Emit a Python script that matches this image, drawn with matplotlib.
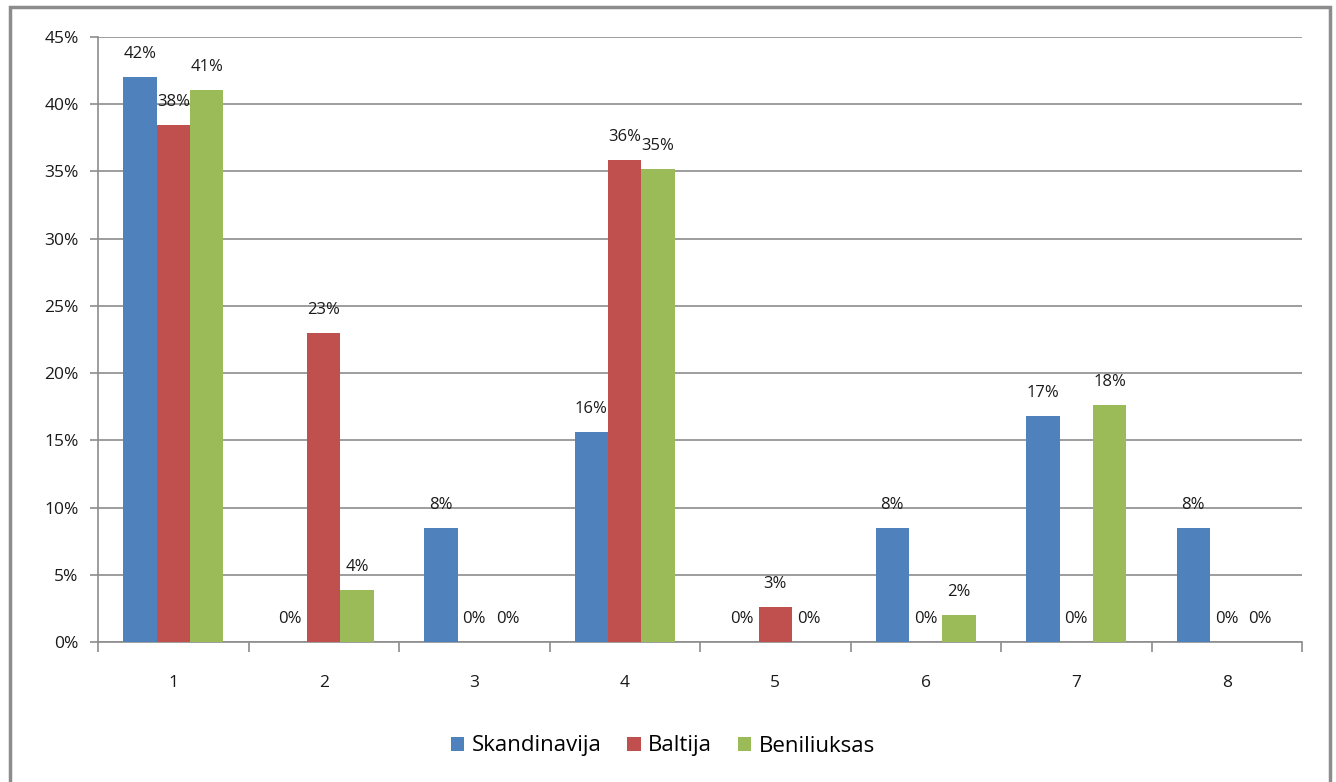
import matplotlib
matplotlib.use("Agg")
import matplotlib.pyplot as plt
import numpy as np
from matplotlib.patches import Rectangle

categories = ["1", "2", "3", "4", "5", "6", "7", "8"]
series_names = ["Skandinavija", "Baltija", "Beniliuksas"]
skandinavija = [42.0, 0.0, 8.48, 15.6, 0.0, 8.48, 16.8, 8.48]
baltija = [38.45, 22.98, 0.0, 35.85, 2.6, 0.0, 0.0, 0.0]
beniliuksas = [41.06, 3.87, 0.0, 35.18, 0.0, 2.0, 17.6, 0.0]
colors = ["#4F81BD", "#C0504D", "#9BBB59"]
y_ticks = [0, 5, 10, 15, 20, 25, 30, 35, 40, 45]

plt.rcParams["font.family"] = ["Open Sans", "DejaVu Sans"]

fig = plt.figure(figsize=(13.36, 7.82), dpi=100)
ax = fig.add_axes([98 / 1336, 1 - 642 / 782, (1302 - 98) / 1336, (642 - 37) / 782])

# outer chart frame (bottom edge runs off the canvas)
fig.patches.append(Rectangle((9.5 / 1336, -20 / 782), 1320 / 1336, 795 / 782,
                             transform=fig.transFigure, fill=False,
                             edgecolor="#8c8c8c", linewidth=2.5))

x = np.arange(len(categories))
width = 0.222
for i, (vals, name) in enumerate(zip([skandinavija, baltija, beniliuksas], series_names)):
    pos = x + (i - 1) * width
    ax.bar(pos, vals, width, color=colors[i], label=name, zorder=3)
    for p, v in zip(pos, vals):
        ax.annotate(f"{round(v)}%", (p, v), xytext=(0, 16.5), textcoords="offset points",
                    ha="center", va="center", fontsize=12, color="#1a1a1a")

ax.set_xlim(-0.5, len(categories) - 0.5)
ax.set_ylim(0, 45)
ax.set_yticks(y_ticks)
ax.set_yticklabels([f"{t}%" for t in y_ticks], fontsize=12.5, color="#1a1a1a")
ax.yaxis.grid(True, color="#8c8c8c", linewidth=1.2, zorder=0)

ax.set_xticks(x)
ax.set_xticklabels(categories, fontsize=12.5, color="#1a1a1a")
ax.set_xticks(np.arange(-0.5, len(categories)), minor=True)
ax.tick_params(axis="x", which="major", length=0, pad=24)
ax.tick_params(axis="x", which="minor", length=7, color="#8c8c8c", width=1.2)
ax.tick_params(axis="y", length=6, color="#8c8c8c", width=1.2, pad=8)

for side in ["top", "right"]:
    ax.spines[side].set_visible(False)
for side in ["left", "bottom"]:
    ax.spines[side].set_color("#8c8c8c")
    ax.spines[side].set_linewidth(1.2)

ax.legend(loc="center", bbox_to_anchor=(663 / 1336, 1 - 746 / 782),
          bbox_transform=fig.transFigure, ncol=3, frameon=False, fontsize=16,
          handlelength=0.6, handleheight=0.6, handletextpad=0.35, columnspacing=1.15)

fig.savefig("out.png", dpi=100)
